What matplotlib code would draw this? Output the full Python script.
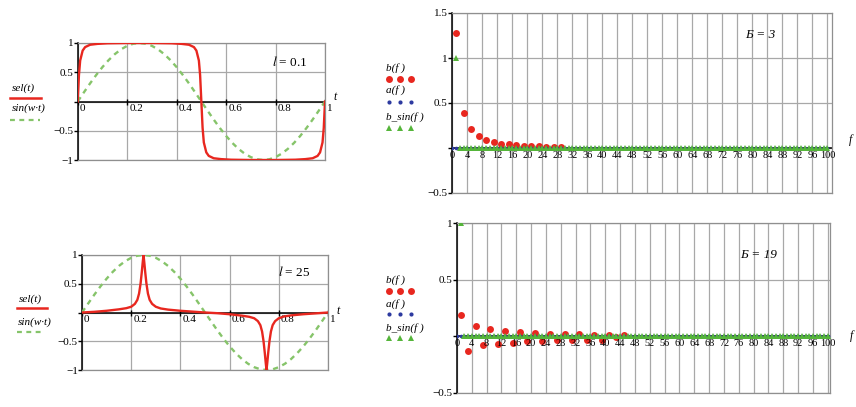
import numpy as np
import matplotlib
matplotlib.use("Agg")
import matplotlib.pyplot as plt
from matplotlib.lines import Line2D

plt.rcParams['font.family'] = ['Liberation Serif', 'DejaVu Serif']
plt.rcParams['mathtext.fontset'] = 'stix'

W, H = 856, 407

# time-domain curves
t_sin = [k / 40 for k in range(41)]
sin_wt = [0, 0.156, 0.309, 0.454, 0.588, 0.707, 0.809, 0.891, 0.951, 0.988, 1.0,
          0.988, 0.951, 0.891, 0.809, 0.707, 0.588, 0.454, 0.309, 0.156, 0,
          -0.156, -0.309, -0.454, -0.588, -0.707, -0.809, -0.891, -0.951, -0.988, -1.0,
          -0.988, -0.951, -0.891, -0.809, -0.707, -0.588, -0.454, -0.309, -0.156, 0]

t_sel_a = [0, 0.005, 0.01, 0.02, 0.03, 0.05, 0.08, 0.12, 0.2, 0.3, 0.38, 0.42, 0.45,
           0.47, 0.48, 0.49, 0.495, 0.5, 0.505, 0.51, 0.52, 0.53, 0.55, 0.58, 0.62,
           0.7, 0.8, 0.88, 0.92, 0.95, 0.97, 0.98, 0.99, 0.995, 1.0]
sel_a = [0, 0.45, 0.7, 0.87, 0.93, 0.97, 0.985, 0.995, 1, 1, 0.995, 0.985, 0.97,
         0.93, 0.87, 0.7, 0.45, 0, -0.45, -0.7, -0.87, -0.93, -0.97, -0.985, -0.995,
         -1, -1, -0.995, -0.985, -0.97, -0.93, -0.87, -0.7, -0.45, 0]

t_sel_b = [0, 0.05, 0.1, 0.15, 0.18, 0.2, 0.215, 0.225, 0.232, 0.238, 0.243, 0.247,
           0.25, 0.253, 0.257, 0.262, 0.268, 0.275, 0.285, 0.3, 0.32, 0.35, 0.4, 0.45,
           0.5, 0.55, 0.6, 0.65, 0.68, 0.7, 0.715, 0.725, 0.732, 0.738, 0.743, 0.747,
           0.75, 0.753, 0.757, 0.762, 0.768, 0.775, 0.785, 0.8, 0.82, 0.85, 0.9, 0.95, 1.0]
sel_b = [0, 0.012, 0.03, 0.055, 0.075, 0.1, 0.15, 0.22, 0.33, 0.5, 0.7, 0.88,
         1.0, 0.88, 0.7, 0.5, 0.33, 0.22, 0.15, 0.1, 0.07, 0.05, 0.03, 0.015,
         0, -0.012, -0.03, -0.055, -0.075, -0.1, -0.15, -0.22, -0.33, -0.5, -0.7, -0.88,
         -1.0, -0.88, -0.7, -0.5, -0.33, -0.22, -0.15, -0.1, -0.07, -0.05, -0.03, -0.015, 0]

# spectra
f_odd_a = list(range(1, 30, 2))
b_a = [1.28, 0.39, 0.21, 0.13, 0.09, 0.07, 0.05, 0.04, 0.03, 0.025, 0.02, 0.017,
       0.014, 0.012, 0.01]
f_odd_b = list(range(1, 46, 2))
b_b = [0.19, -0.13, 0.095, -0.08, 0.065, -0.068, 0.048, -0.055, 0.038, -0.045,
       0.03, -0.04, 0.025, -0.035, 0.02, -0.03, 0.017, -0.03, 0.015, -0.028,
       0.013, -0.01, 0.012]
f_all = list(range(0, 101))
a_f = [0] * 101
f_sin = list(range(1, 101))
b_sin = [1] + [0] * 99

RED = '#e8271f'
GREEN_DASH = '#86c46a'
GREEN = '#55b53a'
BLUE = '#2d3aa0'
GRID = '#a8a8a8'
FS = 8


def px(x, y):
    return x / W, 1 - y / H


def frame(ax):
    for s in ['top', 'right', 'bottom']:
        ax.spines[s].set_color('#8f8f8f')
        ax.spines[s].set_linewidth(0.9)
    ax.spines['left'].set_color('black')
    ax.spines['left'].set_linewidth(1.1)
    ax.grid(True, color=GRID, lw=0.9)
    ax.set_axisbelow(True)
    ax.axhline(0, color='black', lw=1.1, zorder=1.5)
    ax.tick_params(axis='x', length=0, labelbottom=False)
    ax.tick_params(axis='y', length=3, width=1, pad=0, labelsize=FS, direction='out')


def zero_labels(ax, ticks, labels, dx, size):
    for xv, lb in zip(ticks, labels):
        ax.annotate(lb, (xv, 0), xytext=(dx, -2), textcoords='offset points',
                    ha='left' if dx > 0.01 else 'center', va='top', fontsize=size,
                    xycoords='data', annotation_clip=False)


fig = plt.figure(figsize=(W / 100, H / 100), dpi=100)
fig.patch.set_facecolor('white')

# left: time domain
left_axes = [
    (fig.add_axes([77.7 / W, 1 - 160 / H, 247.3 / W, 117 / H]), t_sel_a, sel_a,
     r'$l$ = 0.1', (272, 62)),
    (fig.add_axes([82 / W, 1 - 370 / H, 246 / W, 115 / H]), t_sel_b, sel_b,
     r'$l$ = 25', (278, 272)),
]
for ax, ts, sv, note, npos in left_axes:
    ax.plot(t_sin, sin_wt, color=GREEN_DASH, lw=1.7, ls=(0, (2.2, 2.0)), zorder=3)
    ax.plot(ts, sv, color=RED, lw=1.7, zorder=4)
    ax.set_xlim(0, 1)
    ax.set_ylim(-1, 1)
    xt = [0, 0.2, 0.4, 0.6, 0.8, 1.0]
    ax.set_xticks(xt)
    ax.set_yticks([-1, -0.5, 0, 0.5, 1])
    ax.set_yticklabels(['\u22121', '\u22120.5', '', '0.5', '1'])
    frame(ax)
    ax.plot(xt, [0] * len(xt), '|', color='black', ms=4, mew=1, zorder=2)
    zero_labels(ax, xt, ['0', '0.2', '0.4', '0.6', '0.8', '1'], 1.5, FS)
    fig.text(*px(*npos), note, fontsize=9.5, va='center', ha='left')

# right: spectra
right_axes = [
    (fig.add_axes([452 / W, 1 - 193 / H, 380 / W, 180 / H]), f_odd_a, b_a,
     (-0.5, 1.5), [-0.5, 0, 0.5, 1, 1.5], ['\u22120.5', '', '0.5', '1', '1.5'],
     (-0.1, 101.2), '\u0411 = 3', (745, 35)),
    (fig.add_axes([457 / W, 1 - 393 / H, 373 / W, 170 / H]), f_odd_b, b_b,
     (-0.5, 1.0), [-0.5, 0, 0.5, 1], ['\u22120.5', '', '0.5', '1'],
     (0.8, 100.6), '\u0411 = 19', (740, 255)),
]
for ax, fo, bv, ylim, yt, ytl, xlim, note, npos in right_axes:
    ax.plot(fo, bv, 'o', color=RED, ms=5.0, mew=0, zorder=3)
    ax.plot(f_all, a_f, 'o', color=BLUE, ms=2.6, mew=0, zorder=4)
    ax.plot(f_sin, b_sin, '^', color=GREEN, ms=4.6, mew=0, zorder=5)
    ax.set_xlim(*xlim)
    ax.set_ylim(*ylim)
    xt = list(range(0, 101, 4))
    ax.set_xticks(xt)
    ax.set_yticks(yt)
    ax.set_yticklabels(ytl)
    frame(ax)
    zero_labels(ax, xt, [str(v) for v in xt], 0.0, 7.4)
    fig.text(*px(*npos), note, fontsize=9.5, va='center', ha='left',
             fontstyle='italic')

# axis names at the zero line
fig.text(*px(333, 97), 't', fontsize=8.5, fontstyle='italic', va='center')
fig.text(*px(336, 311), 't', fontsize=8.5, fontstyle='italic', va='center')
fig.text(*px(849, 140), 'f', fontsize=8.5, fontstyle='italic', va='center')
fig.text(*px(850, 336), 'f', fontsize=8.5, fontstyle='italic', va='center')

# legends, time domain
for (lx, ly), (sx0, sx1, sy), (gx, gy), (dx0, dx1, dy) in [
        ((12, 88), (10, 41, 98), (12, 108), (10, 40, 120)),
        ((19, 299), (17, 47, 308), (18, 322), (17, 45, 332))]:
    fig.text(*px(lx, ly), 'sel(t)', fontsize=8, fontstyle='italic', va='center')
    fig.add_artist(Line2D([sx0 / W, sx1 / W], [1 - sy / H] * 2, color=RED, lw=1.8))
    fig.text(*px(gx, gy), 'sin(w\u00b7t)', fontsize=8, fontstyle='italic',
             va='center')
    fig.add_artist(Line2D([dx0 / W, dx1 / W], [1 - dy / H] * 2, color=GREEN_DASH,
                          lw=1.6, ls=(0, (2.2, 2.0))))

# legends, spectra
for rows in [[(68, 79), (90, 102), (117, 128)], [(280, 291), (304, 314), (328, 338)]]:
    for (ty, my), txt, col, mk, ms in zip(rows, ['b(f )', 'a(f )', 'b_sin(f )'],
                                          [RED, BLUE, GREEN], ['o', 'o', '^'],
                                          [5.0, 3.0, 4.0]):
        fig.text(*px(386, ty), txt, fontsize=8, fontstyle='italic', va='center')
        fig.add_artist(Line2D([389 / W, 400 / W, 411 / W], [1 - my / H] * 3,
                              ls='none', marker=mk, color=col, ms=ms, mew=0))

fig.savefig('out.png', dpi=100)
